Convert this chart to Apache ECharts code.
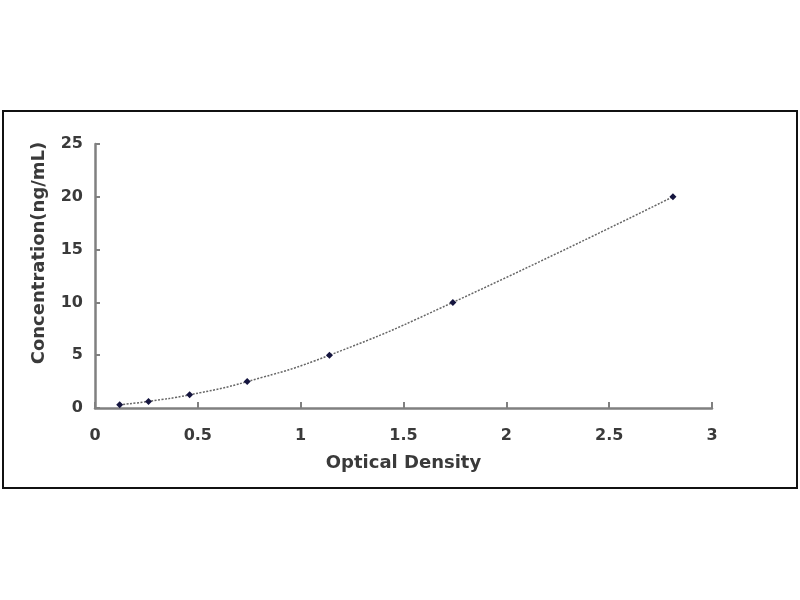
<!DOCTYPE html>
<html>
<head>
<meta charset="utf-8">
<script src="https://cdn.jsdelivr.net/npm/echarts@6/dist/echarts.min.js"></script>
<style>
  html, body { margin: 0; padding: 0; background: #fff; }
  #container { width: 800px; height: 600px; }
</style>
</head>
<body>
<div id="container"></div>
<script>
// standard curve readings
const opticalDensity = [0.12, 0.26, 0.46, 0.74, 1.14, 1.74, 2.81];
const concentration = [0.312, 0.625, 1.25, 2.5, 5, 10, 20];

const points = opticalDensity.map((od, i) => [od, concentration[i]]);

const chart = echarts.init(document.getElementById('container'), null, { renderer: 'canvas' });

const labelFont = {
    fontFamily: 'DejaVu Sans, sans-serif',
    fontWeight: 'bold',
    color: '#3a3a3a'
};

chart.setOption({
    backgroundColor: '#fff',
    animation: false,
    graphic: [
        {
            type: 'rect',
            shape: { x: 3, y: 111, width: 794, height: 377 },
            style: { fill: 'none', stroke: '#111', lineWidth: 2 },
            silent: true
        }
    ],
    grid: { left: 95, right: 88, top: 144, bottom: 192 },
    xAxis: {
        type: 'value',
        min: 0,
        max: 3,
        interval: 0.5,
        name: 'Optical Density',
        nameLocation: 'middle',
        nameGap: 46,
        nameTextStyle: Object.assign({ fontSize: 18 }, labelFont),
        axisLine: { lineStyle: { color: '#808080', width: 2.5 } },
        axisTick: { inside: true, length: 6, lineStyle: { color: '#808080', width: 2 } },
        axisLabel: Object.assign({ fontSize: 16, margin: 20 }, labelFont),
        splitLine: { show: false }
    },
    yAxis: {
        type: 'value',
        min: 0,
        max: 25,
        interval: 5,
        name: 'Concentration(ng/mL)',
        nameLocation: 'middle',
        nameGap: 47,
        // title sits a little above the plot centre in the original
        nameTextStyle: Object.assign({ fontSize: 18, padding: [0, 0, 0, 46] }, labelFont),
        axisLine: { show: true, lineStyle: { color: '#808080', width: 2.5 } },
        axisTick: { show: true, inside: true, length: 5, lineStyle: { color: '#808080', width: 2 } },
        axisLabel: Object.assign({ fontSize: 16, margin: 12 }, labelFont),
        splitLine: { show: false }
    },
    series: [
        {
            type: 'line',
            data: points,
            smooth: true,
            symbol: 'diamond',
            symbolSize: 7,
            itemStyle: { color: '#15153f' },
            lineStyle: { color: '#666', width: 1.5, type: [2, 1.5] }
        }
    ]
});

window.addEventListener('resize', () => chart.resize());
</script>
</body>
</html>
